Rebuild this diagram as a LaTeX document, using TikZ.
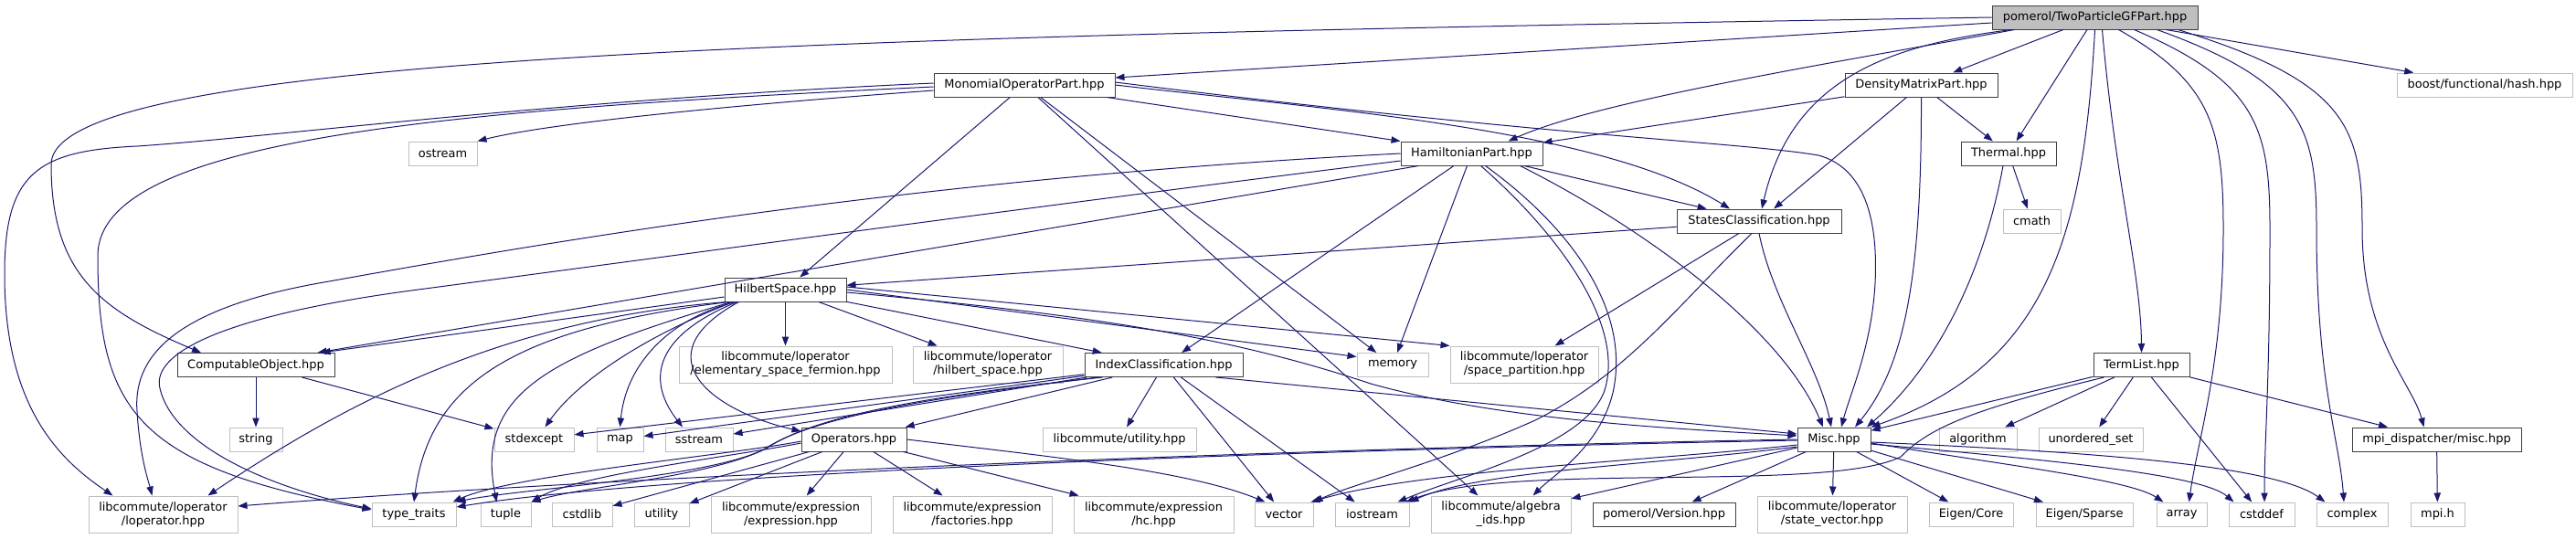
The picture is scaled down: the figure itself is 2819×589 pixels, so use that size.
\documentclass[tikz,border=0pt]{standalone}
\usepackage{fontspec}
\setmainfont{DejaVu Sans}
\usetikzlibrary{arrows.meta,calc}
\definecolor{edgeblue}{HTML}{191970}
\definecolor{boxgrey}{HTML}{BFBFBF}
\definecolor{boxdark}{HTML}{404040}

\begin{document}
\begin{tikzpicture}[x=0.75pt, y=-0.75pt,
		hdr/.style={draw=boxdark, line width=0.75pt, fill=white, inner sep=0pt,
			minimum height=19.5pt, font={\fontsize{9.7pt}{11.25pt}\selectfont}},
		ext/.style={hdr, draw=boxgrey},
		ext2/.style={ext, minimum height=30pt, align=center},
		wd/.style={minimum width=#1*0.75pt},
		dep/.style={draw=edgeblue, line width=0.75pt, -{Triangle[length=7.5pt,width=5.5pt]}}]
				\useasboundingbox (0,0) rectangle (2819,589);
				
				\node[hdr, fill=boxgrey, wd=225] (root) at (2292.5,19) {pomerol/TwoParticleGFPart.hpp};
				
				\node[hdr, wd=198] (mono) at (1121,93) {MonomialOperatorPart.hpp};
				\node[hdr, wd=167] (dmp) at (2102.5,93) {DensityMatrixPart.hpp};
				\node[ext, wd=192] (boost) at (2719,93) {boost/functional/hash.hpp};
				
				\node[ext, wd=75] (ostream) at (484.5,168) {ostream};
				\node[hdr, wd=155] (ham) at (1610.5,168) {HamiltonianPart.hpp};
				\node[hdr, wd=104] (thermal) at (2198,168) {Thermal.hpp};
				
				\node[hdr, wd=180] (sc) at (1925,242) {StatesClassification.hpp};
				\node[ext, wd=63] (cmath) at (2223.5,242) {cmath};
				
				\node[hdr, wd=133] (hs) at (859.5,317) {HilbertSpace.hpp};
				
				\node[hdr, wd=172] (comp) at (280,399.5) {ComputableObject.hpp};
				\node[ext2, wd=233] (esf) at (859.5,399) {libcommute/loperator\\/elementary\_space\_fermion.hpp};
				\node[ext2, wd=164] (hsp) at (1081,399) {libcommute/loperator\\/hilbert\_space.hpp};
				\node[hdr, wd=173] (ic) at (1273.5,399.5) {IndexClassification.hpp};
				\node[ext, wd=78] (memory) at (1524,399.5) {memory};
				\node[ext2, wd=162] (sp) at (1668,399) {libcommute/loperator\\/space\_partition.hpp};
				\node[hdr, wd=105] (termlist) at (2343.5,399.5) {TermList.hpp};
				
				\node[ext, wd=58] (string) at (280,481) {string};
				\node[ext, wd=87] (stdexcept) at (584.5,481) {stdexcept};
				\node[ext, wd=51] (map) at (678.5,481) {map};
				\node[ext, wd=74] (sstream) at (765,481) {sstream};
				\node[hdr, wd=115] (ops) at (934.5,481) {Operators.hpp};
				\node[ext, wd=168] (util) at (1225,481) {libcommute/utility.hpp};
				\node[hdr, wd=80] (misc) at (2007,481) {Misc.hpp};
				\node[ext, wd=85] (algorithm) at (2164.5,481) {algorithm};
				\node[ext, wd=114] (uset) at (2288,481) {unordered\_set};
				\node[hdr, wd=185] (mpid) at (2666.5,481) {mpi\_dispatcher/misc.hpp};
				
				\node[ext2, wd=163] (lop) at (178.5,563) {libcommute/loperator\\/loperator.hpp};
				\node[ext, wd=92] (ttraits) at (453,563) {type\_traits};
				\node[ext, wd=55] (tuple) at (553.5,563) {tuple};
				\node[ext, wd=66] (cstdlib) at (637,563) {cstdlib};
				\node[ext, wd=60] (utility) at (724,563) {utility};
				\node[ext2, wd=175] (expr) at (865.5,563) {libcommute/expression\\/expression.hpp};
				\node[ext2, wd=174] (fact) at (1064,563) {libcommute/expression\\/factories.hpp};
				\node[ext2, wd=175] (hc) at (1262.5,563) {libcommute/expression\\/hc.hpp};
				\node[ext, wd=64] (vector) at (1405,563) {vector};
				\node[ext, wd=81] (iostream) at (1501.5,563) {iostream};
				\node[ext2, wd=153] (algids) at (1642.5,563) {libcommute/algebra\\\_ids.hpp};
				\node[hdr, wd=156] (version) at (1821,563) {pomerol/Version.hpp};
				\node[ext2, wd=164] (sv) at (2005,563) {libcommute/loperator\\/state\_vector.hpp};
				\node[ext, wd=92] (core) at (2157,563) {Eigen/Core};
				\node[ext, wd=106] (sparse) at (2281,563) {Eigen/Sparse};
				\node[ext, wd=55] (array) at (2387.5,563) {array};
				\node[ext, wd=72] (cstddef) at (2475,563) {cstddef};
				\node[ext, wd=78] (complex) at (2574,563) {complex};
				\node[ext, wd=59] (mpih) at (2667.5,563) {mpi.h};
				
				\draw[dep] (root.west) .. controls (900,40) and (56,60) .. (56,180)
				.. controls (56,300) and (110,340) .. ($(comp.north)+(-60,0)$);
				\draw[dep] ($(root.west)+(0,6)$) -- ($(mono.east)+(0,-8)$);
				\draw[dep] ($(root.south west)+(25,0)$) .. controls (2000,70) and (1750,110) .. ($(ham.north)+(40,0)$);
				\draw[dep] ($(root.south west)+(22,0)$) .. controls (2060,50) and (1960,90) .. ($(sc.north)+(3,0)$);
				\draw[dep] (root) -- (dmp);
				\draw[dep] (root) -- (thermal);
				\draw[dep] (root.south) .. controls (2280,260) and (2240,400) .. (misc.north east);
				\draw[dep] ($(root.south)+(8,0)$) .. controls (2315,200) and (2343,300) .. (termlist.north);
				\draw[dep] ($(root.south)+(26,0)$) .. controls (2420,90) and (2433,140) .. (2433,250)
				.. controls (2433,400) and (2405,480) .. ($(array.north)+(8,0)$);
				\draw[dep] ($(root.south)+(43,0)$) .. controls (2470,90) and (2484,140) .. (2484,250)
				.. controls (2484,420) and (2478,480) .. ($(cstddef.north)+(3,0)$);
				\draw[dep] ($(root.south)+(68,0)$) .. controls (2520,90) and (2535,140) .. (2535,250)
				.. controls (2535,420) and (2560,480) .. ($(complex.north)+(-9,0)$);
				\draw[dep] ($(root.south)+(91,0)$) .. controls (2570,90) and (2585,140) .. (2585,250)
				.. controls (2585,370) and (2640,420) .. ($(mpid.north)+(-14,0)$);
				\draw[dep] (root) -- (boost);
				
				\draw[dep] ($(mono.west)+(0,6)$) .. controls (800,115) and (600,135) .. (ostream.north east);
				\draw[dep] ($(mono.west)+(0,-2)$) .. controls (600,110) and (300,150) .. (150,160)
				.. controls (40,165) and (5,190) .. (5,300)
				.. controls (5,440) and (60,500) .. ($(lop.north)+(-55,0)$);
				\draw[dep] ($(mono.west)+(0,2)$) .. controls (500,120) and (107,150) .. (107,280)
				.. controls (107,450) and (150,510) .. ($(ttraits.west)+(0,-5)$);
				\draw[dep] (mono) -- (hs);
				\draw[dep] (mono) -- (memory);
				\draw[dep] (mono) -- ($(algids.north)+(-25,0)$);
				\draw[dep] (mono) -- (ham.north west);
				\draw[dep] (mono.east) .. controls (1450,120) and (1750,140) .. ($(sc.north)+(-32,0)$);
				\draw[dep] ($(mono.east)+(0,-3)$) .. controls (1700,150) and (1900,155) .. (1990,170)
				.. controls (2045,185) and (2055,250) .. (2052,310)
				.. controls (2048,380) and (2025,430) .. ($(misc.north)+(8,0)$);
				
				\draw[dep] (ham.west) .. controls (1000,195) and (600,265) .. (360,308)
				.. controls (200,335) and (145,385) .. (150,450)
				.. controls (153,500) and (162,525) .. ($(lop.north)+(-12,0)$);
				\draw[dep] ($(ham.west)+(0,8)$) .. controls (1100,230) and (700,285) .. (450,318)
				.. controls (250,345) and (165,385) .. (175,425)
				.. controls (190,490) and (300,535) .. ($(ttraits.west)+(0,-6)$);
				\draw[dep] ($(ham.south west)+(20,0)$) -- ($(comp.north east)+(-19,0)$);
				\draw[dep] (ham) -- (ic);
				\draw[dep] (ham) -- (memory);
				\draw[dep] ($(ham.south)+(15,0)$) .. controls (1720,250) and (1785,340) .. (1765,430)
				.. controls (1750,490) and (1700,520) .. ($(algids.north)+(35,0)$);
				\draw[dep] ($(ham.south)+(10,0)$) .. controls (1710,260) and (1780,360) .. (1755,430)
				.. controls (1730,490) and (1600,520) .. ($(iostream.north)+(28,0)$);
				\draw[dep] ($(ham.south east)+(-25,0)$) .. controls (1800,250) and (1950,360) .. ($(misc.north)+(-12,0)$);
				\draw[dep] (ham) -- (sc);
				
				\draw[dep] (dmp) -- (ham);
				\draw[dep] (dmp) -- (sc);
				\draw[dep] (dmp) -- (thermal);
				\draw[dep] (dmp.south) .. controls (2103,300) and (2085,400) .. ($(misc.north)+(23,0)$);
				
				\draw[dep] (thermal) -- (cmath);
				\draw[dep] ($(thermal.south)+(-6,0)$) .. controls (2170,300) and (2120,400) .. ($(misc.north)+(36,0)$);
				
				\draw[dep] (sc) -- (hs);
				\draw[dep] (sc) -- (sp);
				\draw[dep] ($(sc.south)+(-8,0)$) .. controls (1840,330) and (1780,410) .. (1680,460)
				.. controls (1580,505) and (1480,530) .. (vector.north east);
				\draw[dep] (sc.south) .. controls (1940,330) and (1990,400) .. ($(misc.north)+(-3,0)$);
				
				\draw[dep] ($(hs.west)+(0,8)$) -- ($(comp.north east)+(-15,0)$);
				\draw[dep] ($(hs.south west)+(3,0)$) .. controls (550,350) and (380,440) .. ($(lop.north east)+(-33,0)$);
				\draw[dep] ($(hs.south west)+(5,0)$) .. controls (560,360) and (470,420) .. (ttraits.north);
				\draw[dep] ($(hs.south west)+(8,0)$) .. controls (600,390) and (520,430) .. ($(tuple.north)+(-10,0)$);
				\draw[dep] ($(hs.south west)+(10,0)$) .. controls (700,370) and (630,420) .. ($(stdexcept.north)+(12,0)$);
				\draw[dep] ($(hs.south west)+(12,0)$) .. controls (730,350) and (685,400) .. (map.north);
				\draw[dep] ($(hs.south west)+(14,0)$) .. controls (710,370) and (710,420) .. ($(sstream.north)+(-18,0)$);
				\draw[dep] ($(hs.south west)+(16,0)$) .. controls (700,390) and (780,450) .. ($(ops.west)+(0,-9)$);
				\draw[dep] (hs) -- (esf);
				\draw[dep] (hs) -- (hsp);
				\draw[dep] (hs) -- (ic);
				\draw[dep] (hs.east) -- ($(memory.west)+(0,-9)$);
				\draw[dep] ($(hs.east)+(0,-3)$) -- (sp.north west);
				\draw[dep] ($(hs.east)+(0,3)$) .. controls (1200,345) and (1350,370) .. (1500,420)
				.. controls (1650,462) and (1850,470) .. ($(misc.west)+(0,-4)$);
				
				\draw[dep] (ic) -- (ops);
				\draw[dep] (ic) -- (util);
				\draw[dep] (ic) -- (vector);
				\draw[dep] (ic) -- (iostream);
				\draw[dep] (ic) -- (sstream);
				\draw[dep] (ic) -- (map);
				\draw[dep] (ic) -- (stdexcept);
				\draw[dep] ($(ic.south east)+(-30,0)$) -- ($(misc.west)+(0,-6)$);
				\draw[dep] ($(ic.south west)+(20,0)$) .. controls (1050,430) and (900,450) .. (840,490)
				.. controls (780,522) and (640,532) .. (tuple.north east);
				\draw[dep] ($(ic.south west)+(15,0)$) .. controls (1050,432) and (895,452) .. (836,492)
				.. controls (770,524) and (560,536) .. (ttraits.north east);
				
				\draw[dep] (ops) -- (expr);
				\draw[dep] (ops) -- (fact);
				\draw[dep] (ops) -- (hc);
				\draw[dep] (ops) -- (cstdlib);
				\draw[dep] (ops) -- (utility);
				\draw[dep] (ops.east) .. controls (1150,500) and (1300,515) .. ($(vector.north west)+(12,0)$);
				\draw[dep] ($(ops.west)+(0,4)$) .. controls (800,500) and (630,520) .. (tuple.north east);
				\draw[dep] ($(ops.west)+(0,2)$) .. controls (800,498) and (560,520) .. ($(ttraits.north east)+(-4,0)$);
				
				\draw[dep] (misc.west) .. controls (1300,493) and (600,527) .. ($(lop.east)+(0,-9)$);
				\draw[dep] ($(misc.west)+(0,1)$) .. controls (1300,495) and (700,522) .. ($(ttraits.east)+(0,-8)$);
				\draw[dep] ($(misc.west)+(0,6)$) .. controls (1800,505) and (1550,515) .. ($(vector.north east)+(-3,0)$);
				\draw[dep] ($(misc.west)+(0,8)$) .. controls (1800,510) and (1620,515) .. (iostream.north east);
				\draw[dep] (misc) -- (algids);
				\draw[dep] (misc) -- (version);
				\draw[dep] (misc) -- (sv);
				\draw[dep] (misc) -- (core);
				\draw[dep] (misc) -- (sparse);
				\draw[dep] ($(misc.east)+(0,4)$) .. controls (2200,510) and (2330,525) .. ($(array.north west)+(8,0)$);
				\draw[dep] ($(misc.east)+(0,5)$) .. controls (2260,505) and (2410,520) .. ($(cstddef.north west)+(6,0)$);
				\draw[dep] ($(misc.east)+(0,3)$) .. controls (2300,495) and (2490,510) .. ($(complex.north west)+(10,0)$);
				
				\draw[dep] (termlist) -- (misc);
				\draw[dep] (termlist) -- (algorithm);
				\draw[dep] (termlist) -- (uset);
				\draw[dep] (termlist) -- (cstddef);
				\draw[dep] (termlist) -- (mpid);
				\draw[dep] ($(termlist.south west)+(12,0)$) .. controls (2150,450) and (2110,470) .. (2080,500)
				.. controls (2000,540) and (1650,505) .. ($(iostream.north east)+(-4,0)$);
				
				\draw[dep] (mpid) -- (mpih);
				\draw[dep] (comp) -- (string);
				\draw[dep] (comp) -- (stdexcept);
			\end{tikzpicture}
\end{document}
